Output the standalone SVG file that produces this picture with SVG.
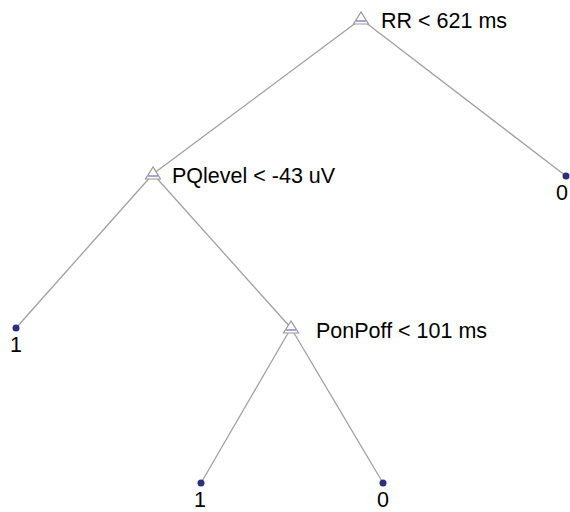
<svg xmlns="http://www.w3.org/2000/svg" width="570" height="512" viewBox="0 0 570 512">
<style>
.edge{stroke:#a0a0a0;stroke-width:1.3;fill:none}
.tri{fill:#ffffff;stroke:#9a9a9a;stroke-width:1.2}
.mid{stroke:#8a86c8;stroke-width:1.5}
.leaf{fill:#2e2e80}
text{font-family:"Liberation Sans",Arial,sans-serif;font-size:21.5px;fill:#000}
</style>
<rect width="570" height="512" fill="#ffffff"/>
<g id="connectors">
<line class="edge" x1="361" y1="19" x2="566" y2="176"/>
<line class="edge" x1="361" y1="19" x2="153" y2="174"/>
<line class="edge" x1="153" y1="174" x2="16" y2="328"/>
<line class="edge" x1="153" y1="174" x2="291" y2="328"/>
<line class="edge" x1="291" y1="328" x2="201" y2="483"/>
<line class="edge" x1="291" y1="328" x2="383" y2="483"/>
</g>
<g id="n-root">
<polygon class="tri" points="361,12 353.5,24 368.5,24"/>
<line class="mid" x1="356" y1="21" x2="366" y2="21"/>
<text x="381" y="28">RR &lt; 621 ms</text>
</g>
<g id="n-pq">
<polygon class="tri" points="153,167 145.5,179 160.5,179"/>
<line class="mid" x1="148" y1="176" x2="158" y2="176"/>
<text x="172" y="183">PQlevel &lt; -43 uV</text>
</g>
<g id="n-pon">
<polygon class="tri" points="291,321 283.5,333 298.5,333"/>
<line class="mid" x1="286" y1="330" x2="296" y2="330"/>
<text x="316" y="338">PonPoff &lt; 101 ms</text>
</g>
<g id="leaf-r">
<circle class="leaf" cx="566" cy="176" r="3.5"/>
<text x="556" y="200">0</text>
</g>
<g id="leaf-l">
<circle class="leaf" cx="16" cy="328" r="3.5"/>
<text x="10" y="352">1</text>
</g>
<g id="leaf-ll">
<circle class="leaf" cx="201" cy="483" r="3.5"/>
<text x="194" y="507">1</text>
</g>
<g id="leaf-lr">
<circle class="leaf" cx="383" cy="483" r="3.5"/>
<text x="377" y="507">0</text>
</g>
</svg>
